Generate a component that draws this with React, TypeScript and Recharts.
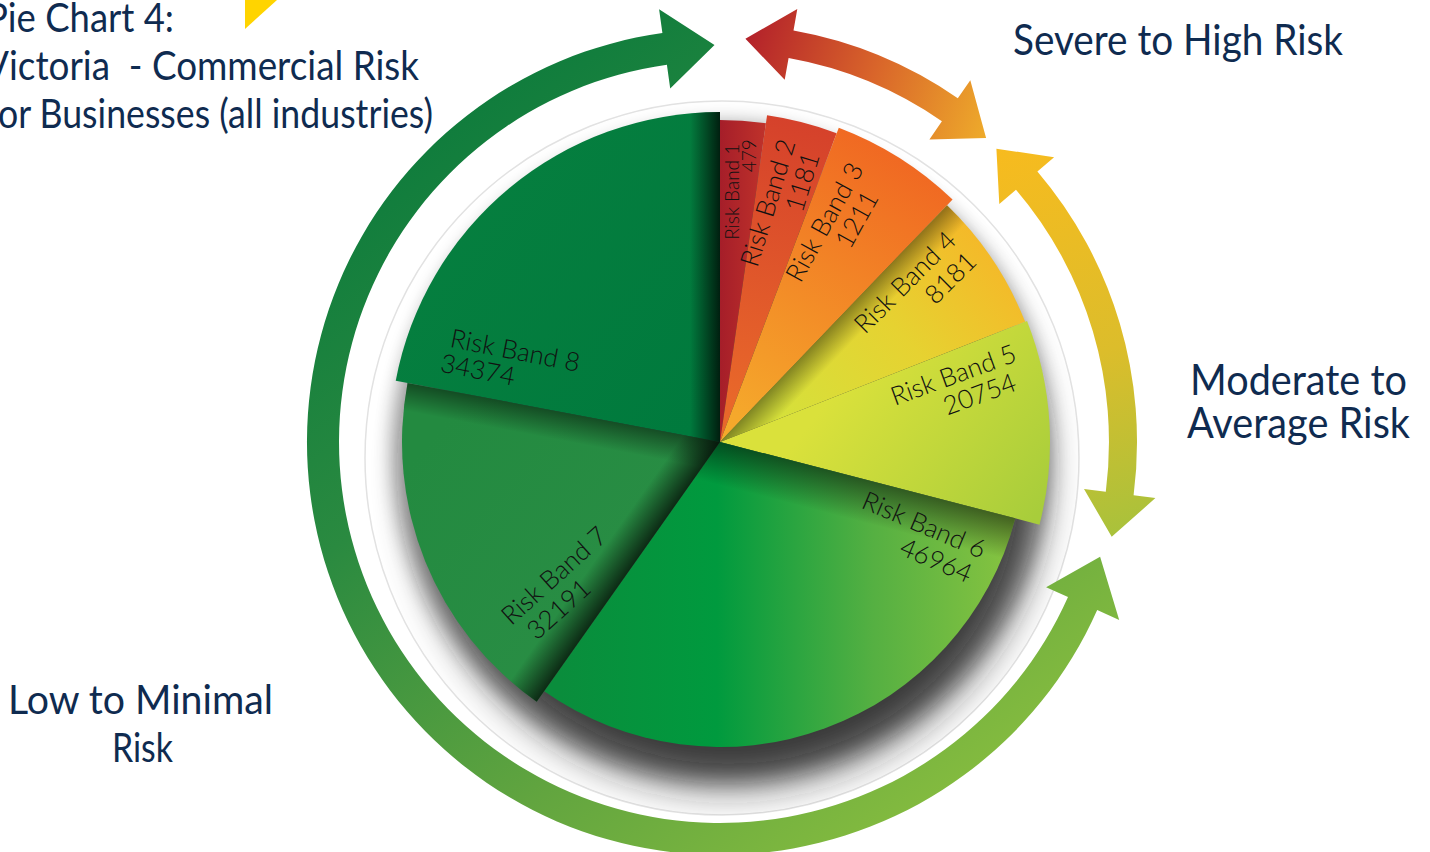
import React from 'react';
import { PieChart, Pie, Cell, Customized } from 'recharts';

// ---------------- data ----------------
const bandNames = ['Risk Band 1', 'Risk Band 2', 'Risk Band 3', 'Risk Band 4', 'Risk Band 5', 'Risk Band 6', 'Risk Band 7', 'Risk Band 8'];
const bandCounts = [479, 1181, 1211, 8181, 20754, 46964, 32191, 34374];
// angular size of each slice as drawn in the reference infographic (degrees, not to scale)
const bandSliceDegrees = [8.2, 12.5, 23.1, 24.7, 36.0, 110.7, 65.5, 79.3];
const titleLines = ['Pie Chart 4:', 'Victoria  - Commercial Risk', 'for Businesses (all industries)'];
const groupLabelLines = [['Severe to High Risk'], ['Moderate to', 'Average Risk'], ['Low to Minimal', 'Risk']];

const pieData = bandNames.map((name, i) => ({ name, count: bandCounts[i], share: bandSliceDegrees[i] }));

// ---------------- layout / style ----------------
const W = 1430;
const H = 852;
const CX = 720;
const CY = 442;
const NAVY = '#0f2b50';
const FONT = 'Lato, "Open Sans", sans-serif';
const LABEL_WEIGHT = 300;
const TITLE_WEIGHT = 400;

const sliceRadius = [322, 330, 336, 328, 330, 305, 318, 330];

const sliceGradients = [
  { x1: 716, y1: 300, x2: 772, y2: 300, stops: ['#a31c29', '#c3352b'] },
  { x1: 805, y1: 120, x2: 745, y2: 400, stops: ['#d5412b', '#e8672a'] },
  { x1: 905, y1: 150, x2: 745, y2: 420, stops: ['#f06722', '#f5a82b'] },
  { x1: 985, y1: 220, x2: 780, y2: 410, stops: ['#f6b628', '#e6d231', '#d6e03a'] },
  { x1: 860, y1: 360, x2: 1045, y2: 505, stops: ['#dae13b', '#a8cd3b'] },
  { x1: 560, y1: 600, x2: 1030, y2: 600, stops: ['#0a8d3c', '#009a3e', '#55b042', '#8dc640'] },
  { x1: 420, y1: 450, x2: 640, y2: 640, stops: ['#238a40', '#2a8e45'] },
  { x1: 420, y1: 200, x2: 700, y2: 420, stops: ['#067f3f', '#007a3d'] },
];

const shades = [
  { band: 7, edge: 'end', width: 30, opacity: 0.75 },
  { band: 6, edge: 'start', width: 34, opacity: 0.7 },
  { band: 6, edge: 'end', width: 28, opacity: 0.45 },
  { band: 5, edge: 'start', width: 42, opacity: 0.5 },
  { band: 3, edge: 'start', width: 26, opacity: 0.4 },
];

const labelLayout = [
  { r: 249, db: 0.5, rot: -90, size: 19, gap: 17, dx2: 36, ox: 0, oy: -2 },
  { r: 243, db: -0.2, rot: -73, size: 26, gap: 27, dx2: 30, ox: 0, oy: 0 },
  { r: 242, db: -4.3, rot: -61, size: 26, gap: 27, dx2: 18, ox: 2, oy: 0 },
  { r: 249, db: -4.7, rot: -45, size: 26, gap: 29, dx2: 35, ox: 0, oy: 5 },
  { r: 246, db: -9.5, rot: -20, size: 26, gap: 27, dx2: 18, ox: -2, oy: 0 },
  { r: 228, db: -43.9, rot: 23, size: 26, gap: 28, dx2: 25, ox: -6, oy: -5 },
  { r: 220, db: -19.3, rot: -42, size: 26, gap: 28, dx2: -19, ox: 8, oy: -2 },
  { r: 220, db: -29.1, rot: 11, size: 26, gap: 26, dx2: -33, ox: -2, oy: 0 },
];

const arrows = [
  { id: 'arrowRed', from: 3.6, to: 41.2, r: 404, w: 28, head: 46, headW: 72 },
  { id: 'arrowYellow', from: 43.3, to: 103.6, r: 403, w: 28, head: 44, headW: 72 },
  { id: 'arrowGreen', from: 106.8, to: 359.2, r: 397, w: 32, head: 50, headW: 80 },
];

const groupTextLayout = [
  { x: 1013, y: 55, size: 43, lines: [{ dx: 0, dy: 0, len: 330 }] },
  { x: 1190, y: 395, size: 43, lines: [{ dx: 0, dy: 0, len: 217 }, { dx: -3, dy: 43, len: 223 }] },
  { x: 8, y: 714, size: 41, lines: [{ dx: 0, dy: 0, len: 265 }, { dx: 104, dy: 48, len: 61 }] },
];

const titleLayout = [
  { x: -14, y: 32, len: 188 },
  { x: -16, y: 80, len: 435 },
  { x: -14, y: 128, len: 447 },
];

// ---------------- helpers ----------------
const polar = (cx: number, cy: number, r: number, bearing: number) => {
  const a = (bearing * Math.PI) / 180;
  return [cx + r * Math.sin(a), cy - r * Math.cos(a)];
};

const starts: number[] = [];
bandSliceDegrees.reduce((acc, v, i) => {
  starts[i] = acc;
  return acc + v;
}, 0);

function arcArrowPath(cx: number, cy: number, r: number, w: number, b0: number, b1: number, head: number, headW: number) {
  const hd = (head / r) * 180 / Math.PI;
  const ro = r + w / 2;
  const ri = r - w / 2;
  const fo = r + headW / 2;
  const fi = r - headW / 2;
  const s = b0 + hd;
  const e = b1 - hd;
  const large = e - s > 180 ? 1 : 0;
  const p = (rr: number, bb: number) => polar(cx, cy, rr, bb).map((v) => v.toFixed(1)).join(' ');
  return `M ${p(r, b0)} L ${p(fo, s)} L ${p(ro, s)} A ${ro} ${ro} 0 ${large} 1 ${p(ro, e)} L ${p(fo, e)} L ${p(r, b1)} L ${p(fi, e)} L ${p(ri, e)} A ${ri} ${ri} 0 ${large} 0 ${p(ri, s)} L ${p(fi, s)} Z`;
}

const makeLabel = (band: number) => (props: any) => {
  if (props.index !== band) return <g />;
  const L = labelLayout[band];
  const cx = props.cx ?? CX;
  const cy = props.cy ?? CY;
  const b = 90 - props.midAngle + L.db;
  const [px, py] = polar(cx, cy, L.r, b);
  const x = px + L.ox;
  const y = py + L.oy;
  const d = pieData[band];
  return (
    <g transform={`translate(${x.toFixed(1)},${y.toFixed(1)}) rotate(${L.rot})`}>
      <text x={0} y={-L.gap / 2} textAnchor="middle" dominantBaseline="central" fontFamily={FONT} fontWeight={LABEL_WEIGHT} fontSize={L.size} fill="#111">
        {d.name}
      </text>
      <text x={L.dx2} y={L.gap / 2} textAnchor="middle" dominantBaseline="central" fontFamily={FONT} fontWeight={LABEL_WEIGHT} fontSize={L.size} fill="#111">
        {d.count}
      </text>
    </g>
  );
};

const Decorations = () => (
  <g>
    <polygon points="245,0 277,0 245,29" fill="#ffd400" />
    {arrows.map((a) => (
      <path key={a.id} d={arcArrowPath(CX, CY, a.r, a.w, a.from, a.to, a.head, a.headW)} fill={`url(#${a.id})`} />
    ))}
    {titleLines.map((t, i) => (
      <text key={t} x={titleLayout[i].x} y={titleLayout[i].y} fontFamily={FONT} fontWeight={TITLE_WEIGHT} fontSize={41} fill={NAVY}
        textLength={titleLayout[i].len} lengthAdjust="spacingAndGlyphs" style={{ whiteSpace: 'pre' }}>
        {t}
      </text>
    ))}
    {groupLabelLines.map((lines, g) =>
      lines.map((t, j) => {
        const G = groupTextLayout[g];
        const l = G.lines[j];
        return (
          <text key={`${g}-${j}`} x={G.x + l.dx} y={G.y + l.dy} fontFamily={FONT} fontWeight={TITLE_WEIGHT} fontSize={G.size} fill={NAVY}
            textLength={l.len} lengthAdjust="spacingAndGlyphs">
            {t}
          </text>
        );
      })
    )}
  </g>
);

export default function App() {
  return (
    <div style={{ position: 'absolute', left: 0, top: 0, width: W, height: H, background: '#fff' }}>
      <svg width={W} height={H} style={{ position: 'absolute', left: 0, top: 0 }}>
        <defs>
          {sliceGradients.map((g, i) => (
            <linearGradient key={i} id={`slice${i}`} gradientUnits="userSpaceOnUse" x1={g.x1} y1={g.y1} x2={g.x2} y2={g.y2}>
              {g.stops.map((c, k) => (
                <stop key={k} offset={g.stops.length === 1 ? 0 : k / (g.stops.length - 1)} stopColor={c} />
              ))}
            </linearGradient>
          ))}
          {shades.map((s, k) => {
            const eb = s.edge === 'start' ? starts[s.band] : starts[s.band] + bandSliceDegrees[s.band];
            const [ex, ey] = polar(CX, CY, 200, eb);
            const a = (eb * Math.PI) / 180;
            const sign = s.edge === 'start' ? 1 : -1;
            const dx = Math.cos(a) * sign * s.width;
            const dy = Math.sin(a) * sign * s.width;
            return (
              <linearGradient key={k} id={`shade${k}`} gradientUnits="userSpaceOnUse" x1={ex} y1={ey} x2={ex + dx} y2={ey + dy}>
                <stop offset={0} stopColor="#000" stopOpacity={s.opacity} />
                <stop offset={1} stopColor="#000" stopOpacity={0} />
              </linearGradient>
            );
          })}
          <linearGradient id="arrowRed" gradientUnits="userSpaceOnUse" x1={745} y1={40} x2={995} y2={130}>
            <stop offset={0} stopColor="#b3212a" />
            <stop offset={0.5} stopColor="#d9652a" />
            <stop offset={1} stopColor="#efae2b" />
          </linearGradient>
          <linearGradient id="arrowYellow" gradientUnits="userSpaceOnUse" x1={1000} y1={140} x2={1120} y2={545}>
            <stop offset={0} stopColor="#f8bb1e" />
            <stop offset={0.55} stopColor="#dcbd2b" />
            <stop offset={1} stopColor="#a6c23c" />
          </linearGradient>
          <linearGradient id="arrowGreen" gradientUnits="userSpaceOnUse" x1={450} y1={60} x2={1000} y2={800}>
            <stop offset={0} stopColor="#0b7a3c" />
            <stop offset={0.35} stopColor="#2a8a40" />
            <stop offset={0.7} stopColor="#62a53f" />
            <stop offset={1} stopColor="#88be3f" />
          </linearGradient>
          <filter id="blurL" x="-30%" y="-30%" width="160%" height="160%">
            <feGaussianBlur stdDeviation={21} />
          </filter>
          <filter id="blurS" x="-30%" y="-30%" width="160%" height="160%">
            <feGaussianBlur stdDeviation={9} />
          </filter>
          <clipPath id="discClip">
            <circle cx={722} cy={458} r={357} />
          </clipPath>
        </defs>
        <circle cx={722} cy={458} r={357} fill="#fff" stroke="#e2e2e2" strokeWidth={1.5} />
        <g clipPath="url(#discClip)">
          <circle cx={722} cy={450} r={330} fill="#000" opacity={0.28} filter="url(#blurS)" />
          <circle cx={728} cy={472} r={312} fill="#1a1a1a" opacity={0.82} filter="url(#blurL)" />
        </g>
      </svg>
      <div style={{ position: 'absolute', left: 0, top: 0 }}>
        <PieChart width={W} height={H} margin={{ top: 0, right: 0, bottom: 0, left: 0 }}>
          {bandNames.map((_, band) => (
            <Pie
              key={`p${band}`}
              data={pieData}
              dataKey="share"
              nameKey="name"
              cx={CX}
              cy={CY}
              innerRadius={0}
              outerRadius={sliceRadius[band]}
              startAngle={90}
              endAngle={-270}
              stroke="none"
              isAnimationActive={false}
              labelLine={false}
              label={makeLabel(band)}
            >
              {pieData.map((d, j) => (
                <Cell key={d.name} fill={j === band ? `url(#slice${j})` : 'none'} stroke="none" />
              ))}
            </Pie>
          ))}
          {shades.map((s, k) => (
            <Pie
              key={`s${k}`}
              data={pieData}
              dataKey="share"
              cx={CX}
              cy={CY}
              innerRadius={0}
              outerRadius={sliceRadius[s.band]}
              startAngle={90}
              endAngle={-270}
              stroke="none"
              isAnimationActive={false}
              label={false}
              labelLine={false}
            >
              {pieData.map((d, j) => (
                <Cell key={d.name} fill={j === s.band ? `url(#shade${k})` : 'none'} stroke="none" />
              ))}
            </Pie>
          ))}
          <Customized component={<Decorations />} />
        </PieChart>
      </div>
    </div>
  );
}
